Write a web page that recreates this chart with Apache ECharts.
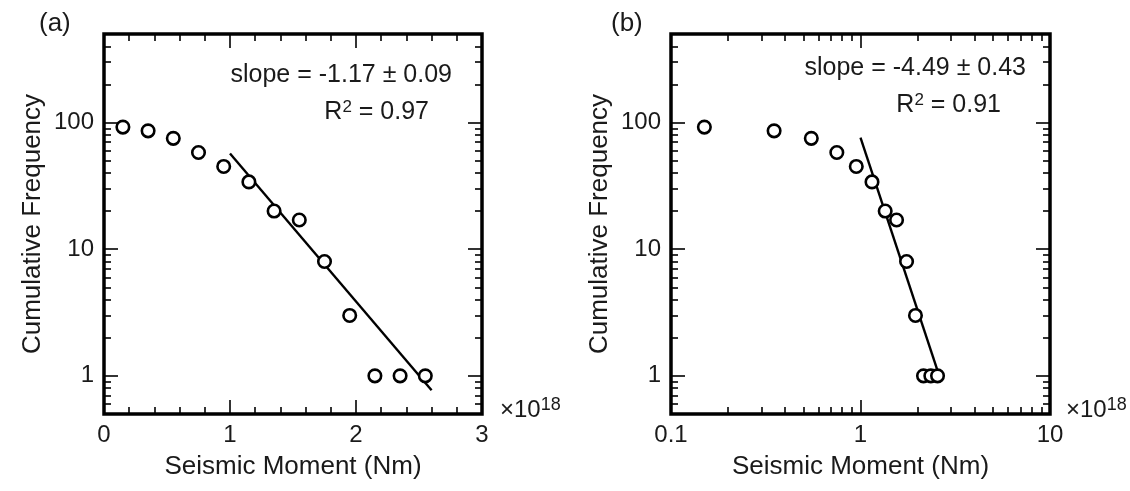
<!DOCTYPE html>
<html><head><meta charset="utf-8">
<script src="https://cdn.jsdelivr.net/npm/echarts@6/dist/echarts.min.js"></script>
<style>html,body{margin:0;padding:0;background:#fff}#c{width:1130px;height:491px}</style>
</head><body><div id="c"></div>
<script>
// ---- data ----
const moment = [0.15, 0.35, 0.55, 0.75, 0.95, 1.15, 1.35, 1.55, 1.75, 1.95, 2.15, 2.35, 2.55]; // x10^18 Nm
const freq = [92, 86, 75, 58, 45, 34, 20, 17, 8, 3, 1, 1, 1];
const fitAx = [1.0, 2.6];
const fitAy = [57, 0.77];
const fitBx = [1.0, 2.55];
const fitBy = [76, 1.1];
// ---- ticks ----
const yMajor = [1, 10, 100];
const yMinor = [0.6, 0.7, 0.8, 0.9, 2, 3, 4, 5, 6, 7, 8, 9, 20, 30, 40, 50, 60, 70, 80, 90, 200, 300, 400];
const xMajorA = [0, 1, 2, 3];
const xMinorA = [0.2, 0.4, 0.6, 0.8, 1.2, 1.4, 1.6, 1.8, 2.2, 2.4, 2.6, 2.8];
const xMajorB = [0.1, 1, 10];
const xMinorB = [0.2, 0.3, 0.4, 0.5, 0.6, 0.7, 0.8, 0.9, 2, 3, 4, 5, 6, 7, 8, 9];
const annoA = ['slope = -1.17 \u00b1 0.09', '0.97'];
const annoB = ['slope = -4.49 \u00b1 0.43', '0.91'];

const FONT = 'Liberation Sans';
const TXT = '#1a1a1a';
const MAJ = 14, MIN = 7;

function pts(xs, ys) { return xs.map((x, i) => [x, ys[i]]); }

function axes(dim, grid, type, min, max, position, major, minor, withLabels, name, nameGap) {
  const base = {
    gridIndex: grid, type: type, min: min, max: max, position: position,
    splitLine: { show: false }, axisLine: { show: false, onZero: false },
    logBase: 10
  };
  const a1 = Object.assign({}, base, {
    axisTick: { show: true, inside: true, length: MAJ, customValues: major, lineStyle: { color: '#000', width: 1.6 } },
    axisLabel: withLabels ? { show: true, customValues: major, margin: dim === 'x' ? 9 : 10, fontSize: 24, fontFamily: FONT, color: TXT } : { show: false }
  });
  if (name) {
    Object.assign(a1, { name: name, nameLocation: 'middle', nameGap: nameGap,
      nameTextStyle: { fontSize: 26, fontFamily: FONT, color: TXT } });
  }
  const a2 = Object.assign({}, base, {
    axisTick: { show: true, inside: true, length: MIN, customValues: minor, lineStyle: { color: '#000', width: 1.6 } },
    axisLabel: { show: false }
  });
  return [a1, a2];
}

const xAxis = [].concat(
  axes('x', 0, 'value', 0, 3, 'bottom', xMajorA, xMinorA, true, 'Seismic Moment (Nm)', 40),
  axes('x', 0, 'value', 0, 3, 'top', xMajorA, xMinorA, false),
  axes('x', 1, 'log', 0.1, 10, 'bottom', xMajorB, xMinorB, true, 'Seismic Moment (Nm)', 40),
  axes('x', 1, 'log', 0.1, 10, 'top', xMajorB, xMinorB, false)
);
const yAxis = [].concat(
  axes('y', 0, 'log', 0.5, 500, 'left', yMajor, yMinor, true, 'Cumulative Frequency', 58),
  axes('y', 0, 'log', 0.5, 500, 'right', yMajor, yMinor, false),
  axes('y', 1, 'log', 0.5, 500, 'left', yMajor, yMinor, true, 'Cumulative Frequency', 58),
  axes('y', 1, 'log', 0.5, 500, 'right', yMajor, yMinor, false)
);

const scatterStyle = { color: '#fff', borderColor: '#000', borderWidth: 2.6, opacity: 1 };

function txt(x, y, text, align, size, rich) {
  return { type: 'text', x: x, y: y, z: 100, style: {
    text: text, textAlign: align, textVerticalAlign: 'middle', fontSize: size, fontFamily: FONT, fill: TXT,
    rich: rich || {} } };
}
const supRich = { s: { fontSize: 17, fontFamily: FONT, fill: TXT, verticalAlign: 'top', padding: [0, 0, 10, 0] },
                  n: { fontSize: 25, fontFamily: FONT, fill: TXT } };
const expRich = { s: { fontSize: 18, fontFamily: FONT, fill: TXT, padding: [0, 0, 10, 0] },
                  n: { fontSize: 24, fontFamily: FONT, fill: TXT } };

const option = {
  backgroundColor: '#fff',
  animation: false,
  grid: [
    { left: 104, top: 34, width: 378, height: 380, show: true, borderColor: '#000', borderWidth: 3.5, backgroundColor: 'transparent' },
    { left: 671, top: 34, width: 379, height: 380, show: true, borderColor: '#000', borderWidth: 3.5, backgroundColor: 'transparent' }
  ],
  xAxis: xAxis,
  yAxis: yAxis,
  series: [
    { type: 'line', xAxisIndex: 0, yAxisIndex: 0, data: pts(fitAx, fitAy), symbol: 'none', lineStyle: { color: '#000', width: 2.4 }, z: 2 },
    { type: 'scatter', xAxisIndex: 0, yAxisIndex: 0, data: pts(moment, freq), symbol: 'circle', symbolSize: 12.5, itemStyle: scatterStyle, z: 3 },
    { type: 'line', xAxisIndex: 4, yAxisIndex: 4, data: pts(fitBx, fitBy), symbol: 'none', lineStyle: { color: '#000', width: 2.4 }, z: 2 },
    { type: 'scatter', xAxisIndex: 4, yAxisIndex: 4, data: pts(moment, freq), symbol: 'circle', symbolSize: 12.5, itemStyle: scatterStyle, z: 3 }
  ],
  graphic: [
    txt(39, 24, '(a)', 'left', 26),
    txt(611, 24, '(b)', 'left', 26),
    txt(452, 75, annoA[0], 'right', 25),
    txt(429, 112, '{n|R}{s|2}{n| = ' + annoA[1] + '}', 'right', 25, supRich),
    txt(1026, 68, annoB[0], 'right', 25),
    txt(1001, 105, '{n|R}{s|2}{n| = ' + annoB[1] + '}', 'right', 25, supRich),
    txt(500, 410, '{n|\u00d710}{s|18}', 'left', 24, expRich),
    txt(1066, 410, '{n|\u00d710}{s|18}', 'left', 24, expRich)
  ]
};
const chart = echarts.init(document.getElementById('c'), null, { renderer: 'canvas' });
chart.setOption(option);
</script>
</body></html>
